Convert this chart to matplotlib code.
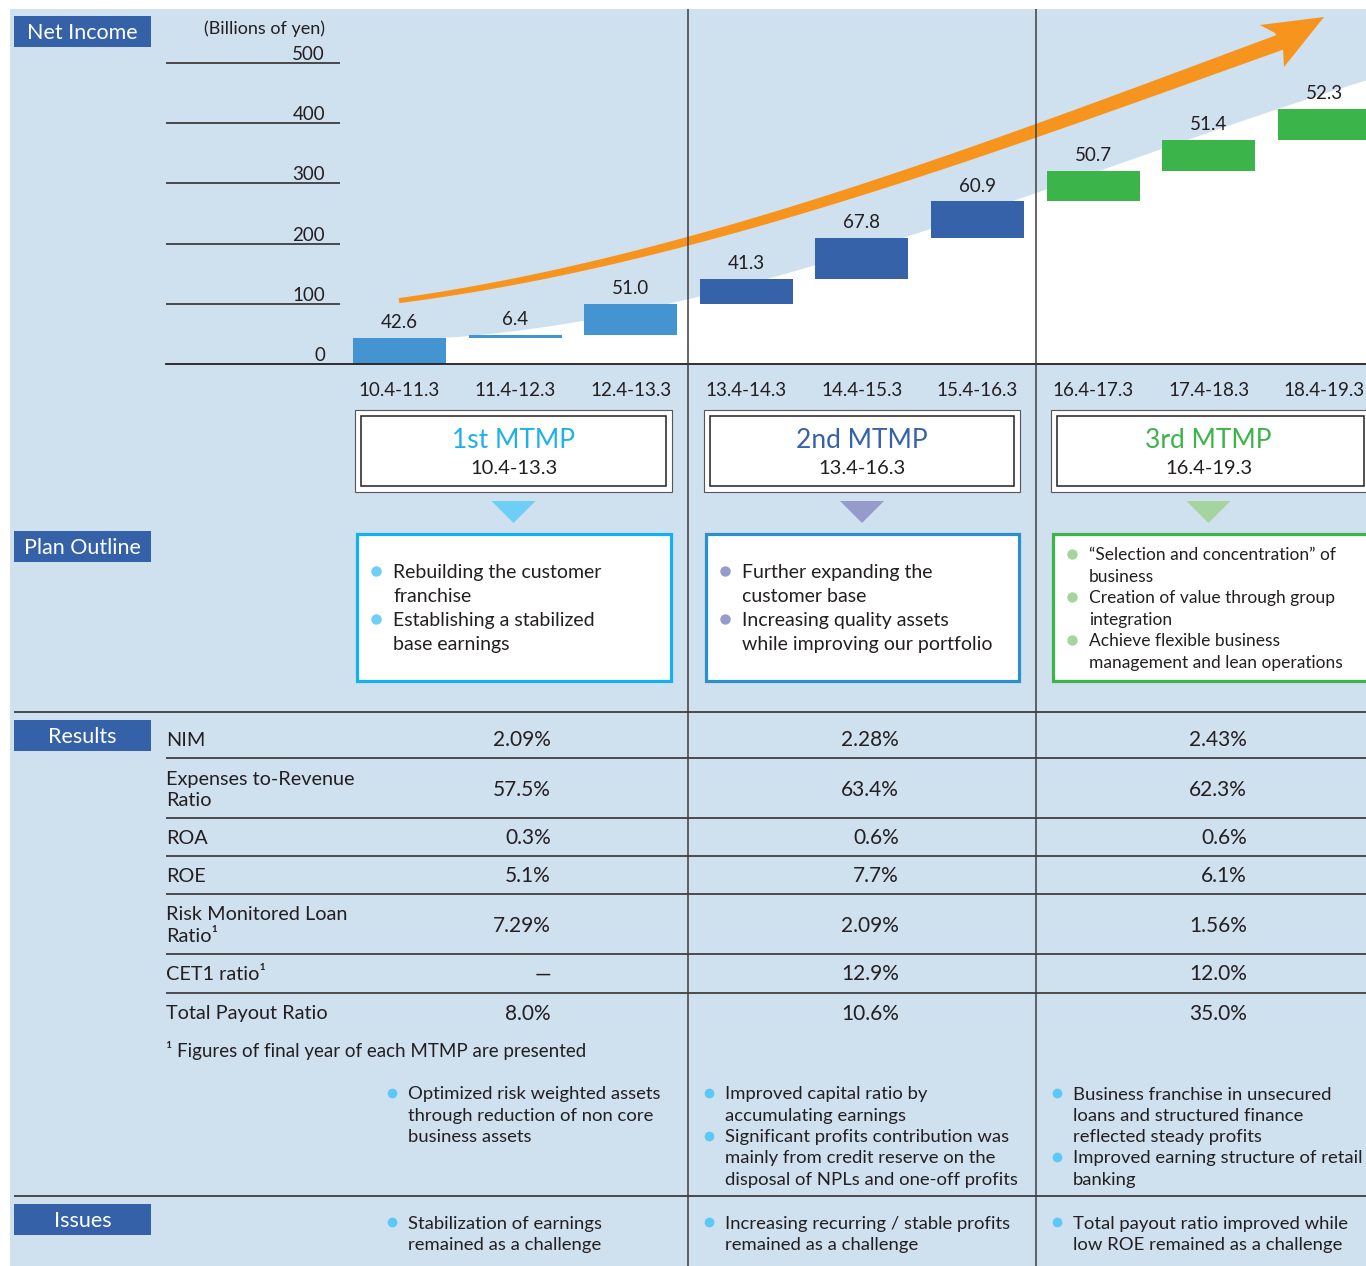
import numpy as np
import matplotlib.pyplot as plt
from matplotlib.patches import Rectangle, Polygon

plt.rcParams['font.family'] = ['Lato', 'DejaVu Sans']

# Net income per fiscal year, billions of yen
periods = ['10.4-11.3', '11.4-12.3', '12.4-13.3', '13.4-14.3', '14.4-15.3',
           '15.4-16.3', '16.4-17.3', '17.4-18.3', '18.4-19.3']
net_income = [42.6, 6.4, 51.0, 41.3, 67.8, 60.9, 50.7, 51.4, 52.3]
plan_of_year = [0, 0, 0, 1, 1, 1, 2, 2, 2]
y_ticks = [0, 100, 200, 300, 400, 500]

plans = ['1st MTMP', '2nd MTMP', '3rd MTMP']
plan_spans = ['10.4-13.3', '13.4-16.3', '16.4-19.3']
plan_outline = [
    [['Rebuilding the customer', 'franchise'],
     ['Establishing a stabilized', 'base earnings']],
    [['Further expanding the', 'customer base'],
     ['Increasing quality assets', 'while improving our portfolio']],
    [['\u201cSelection and concentration\u201d of', 'business'],
     ['Creation of value through group', 'integration'],
     ['Achieve flexible business', 'management and lean operations']],
]

metrics = [['NIM'], ['Expenses to-Revenue', 'Ratio'], ['ROA'], ['ROE'],
           ['Risk Monitored Loan', 'Ratio\u00b9'], ['CET1 ratio\u00b9'],
           ['Total Payout Ratio']]
results_1st = ['2.09%', '57.5%', '0.3%', '5.1%', '7.29%', '\u2014', '8.0%']
results_2nd = ['2.28%', '63.4%', '0.6%', '7.7%', '2.09%', '12.9%', '10.6%']
results_3rd = ['2.43%', '62.3%', '0.6%', '6.1%', '1.56%', '12.0%', '35.0%']
footnote = '\u00b9 Figures of final year of each MTMP are presented'

result_notes = [
    [['Optimized risk weighted assets', 'through reduction of non core',
      'business assets']],
    [['Improved capital ratio by', 'accumulating earnings'],
     ['Significant profits contribution was', 'mainly from credit reserve on the',
      'disposal of NPLs and one-off profits']],
    [['Business franchise in unsecured', 'loans and structured finance',
      'reflected steady profits'],
     ['Improved earning structure of retail', 'banking']],
]
issues = [
    [['Stabilization of earnings', 'remained as a challenge']],
    [['Increasing recurring / stable profits', 'remained as a challenge']],
    [['Total payout ratio improved while', 'low ROE remained as a challenge']],
]

# colours
PANEL = '#cfe0ef'
TAG = '#3561a8'
TEXT = '#231f20'
LINE = '#333333'
ORANGE = '#f7941d'
bar_colors = ['#4394d0', '#3562a8', '#3bb54a']
title_colors = ['#1fb0ec', '#3562a8', '#3bb54a']
border_colors = ['#14b1ec', '#2a8fcb', '#3bb54a']
soft_colors = ['#6dcff6', '#959ccc', '#a5d59f']
NOTE_DOT = '#5bc8f5'

W, H = 1366, 1266
DY = 1.5  # vertical nudge so text caps sit on the given centre line
fig = plt.figure(figsize=(W / 100, H / 100), dpi=100)

# background layer in pixel coordinates
bg = fig.add_axes([0, 0, 1, 1])
bg.set_xlim(0, W)
bg.set_ylim(H, 0)
bg.axis('off')
bg.add_patch(Rectangle((10, 9), W - 10, H - 9, color=PANEL, lw=0))

# white area under the growth curve
bx = np.array([353, 446, 561, 688, 793, 908, 1036, 1162, 1255, 1278, 1366])
by = np.array([339, 337, 332, 291, 277, 236, 185, 152, 123, 110, 76])
coef = np.polyfit(bx, by, 3)
xs = np.linspace(353, W, 200)
ys = np.polyval(coef, xs)
bg.add_patch(Polygon(np.column_stack([np.r_[353, xs, W], np.r_[364, ys, 364]]),
                     closed=True, color='white', lw=0))

bg.text(325, 27 + DY, '(Billions of yen)', fontsize=13, color=TEXT, ha='right', va='center')

# section tags
for label, y0 in [('Net Income', 16), ('Plan Outline', 531), ('Results', 720), ('Issues', 1204)]:
    bg.add_patch(Rectangle((14, y0), 137, 31, color=TAG, lw=0))
    bg.text(82.5, y0 + 15.5 + DY, label, color='white', fontsize=15.5, ha='center', va='center')


def write_lines(ax, x, y0, step, lines, size, **kw):
    for i, s in enumerate(lines):
        ax.text(x, y0 + i * step + DY, s, fontsize=size, color=TEXT, va='center', **kw)


# plan header boxes, arrows and outline boxes
box_x = [(355, 672), (704, 1020), (1051, 1370)]
for k, (x0, x1) in enumerate(box_x):
    cx = (x0 + min(x1, W)) / 2
    bg.add_patch(Rectangle((x0, 410), x1 - x0, 82, facecolor='white', edgecolor='#555555', lw=0.8))
    bg.add_patch(Rectangle((x0 + 6, 416), x1 - x0 - 12, 70, facecolor='white', edgecolor=TEXT, lw=1.1))
    bg.text(cx, 439 + DY, plans[k], color=title_colors[k], fontsize=19, ha='center', va='center')
    bg.text(cx, 467 + DY, plan_spans[k], color=TEXT, fontsize=14.5, ha='center', va='center')
    bg.add_patch(Polygon([(cx - 22, 501), (cx + 22, 501), (cx, 523)], color=soft_colors[k], lw=0))
    bg.add_patch(Rectangle((x0 + 1.5, 533.5), x1 - x0 - 3, 147, facecolor='white',
                           edgecolor=border_colors[k], lw=2.3))
    if k < 2:
        y, step, size = 571, 24, 14
    else:
        y, step, size = 554, 21.5, 12.5
    for item in plan_outline[k]:
        bg.plot(x0 + 21, y, 'o', ms=7.5, color=soft_colors[k], mec='none')
        write_lines(bg, x0 + 38, y, step, item, size)
        y += step * len(item)

# results table
row_y = [739, 789, 837, 875, 924, 973, 1012]
bg.hlines([758, 818, 856, 894, 954, 993], 166, W, color=LINE, lw=1.2)
bg.hlines([712, 1196], 14, W, color=TEXT, lw=1.1)
for k, lines in enumerate(metrics):
    y0 = row_y[k] - (len(lines) - 1) * 10.5
    write_lines(bg, 166, y0, 21, lines, 14.3)
for col_x, vals in zip([551, 899, 1247], [results_1st, results_2nd, results_3rd]):
    for y, v in zip(row_y, vals):
        bg.text(col_x, y + DY, v, fontsize=15, color=TEXT, ha='right', va='center')
bg.text(166, 1049 + DY, footnote, fontsize=13.5, color=TEXT, va='center')

for group, y_start in [(result_notes, 1093), (issues, 1222)]:
    for dot_x, notes in zip([392, 709, 1057], group):
        y = y_start
        for item in notes:
            bg.plot(dot_x, y, 'o', ms=7, color=NOTE_DOT, mec='none')
            write_lines(bg, dot_x + 16, y, 21.3, item, 13.3)
            y += 21.3 * len(item)

# net income bars, each floating on top of the running total
X0, DX, PX_PER = 399.5, 115.6, 0.602


def px2i(px):
    return (px - X0) / DX


axb = fig.add_axes([166 / W, (H - 364) / H, (W - 166) / W, 354 / H])
axb.set_zorder(1)
axb.patch.set_alpha(0)
axb.set_xlim(px2i(166), px2i(W))
axb.set_ylim(0, 354 / PX_PER)
idx = np.arange(len(net_income))
totals = np.cumsum(net_income)
bars = axb.bar(idx, net_income, bottom=totals - np.array(net_income), width=0.805,
               color=[bar_colors[p] for p in plan_of_year])
axb.bar_label(bars, labels=[f'{v:.1f}' for v in net_income], padding=5,
              fontsize=13.5, color=TEXT)
for v in y_ticks:
    if v:
        axb.hlines(v, px2i(166), px2i(340), color=TEXT, lw=1.1)
    axb.text(px2i(325), v, str(v), fontsize=13.5, color=TEXT, ha='right', va='bottom')
for side in ['top', 'right', 'left']:
    axb.spines[side].set_visible(False)
axb.spines['bottom'].set_color(TEXT)
axb.spines['bottom'].set_linewidth(1.3)
axb.set_yticks([])
axb.set_xticks(idx, periods)
axb.tick_params(axis='x', length=0, pad=13, labelsize=13.5, labelcolor=TEXT)

# growth arrow and plan dividers on top
top = fig.add_axes([0, 0, 1, 1])
top.set_zorder(2)
top.patch.set_alpha(0)
top.set_xlim(0, W)
top.set_ylim(H, 0)
top.axis('off')

ax_ = np.array([399, 470, 531, 610, 688, 800, 900, 1036, 1150, 1233, 1281])
ay_ = np.array([298, 291, 282, 262, 239, 206, 177, 133, 90, 61, 40])
c = np.polyfit(ax_, ay_, 3)
sx = np.linspace(399, 1281, 300)
sy = np.polyval(c, sx)
slope = np.polyval(np.polyder(c), sx)
norm = np.hypot(1, slope)
nx, ny = -slope / norm, 1 / norm
half = (5 + 11 * (sx - 399) / (1281 - 399)) / 2
upper = np.column_stack([sx - nx * half, sy - ny * half])
lower = np.column_stack([sx + nx * half, sy + ny * half])
top.add_patch(Polygon(np.vstack([upper, lower[::-1]]), closed=True, color=ORANGE, lw=0))
top.add_patch(Polygon([(1275, 33), (1260, 25), (1324, 17), (1284, 67), (1283, 48)],
                      closed=True, color=ORANGE, lw=0))

top.vlines([688, 1036], 9, H, color='#3d3d3d', lw=1.1)

fig.savefig('out.png', dpi=100, facecolor='white')
